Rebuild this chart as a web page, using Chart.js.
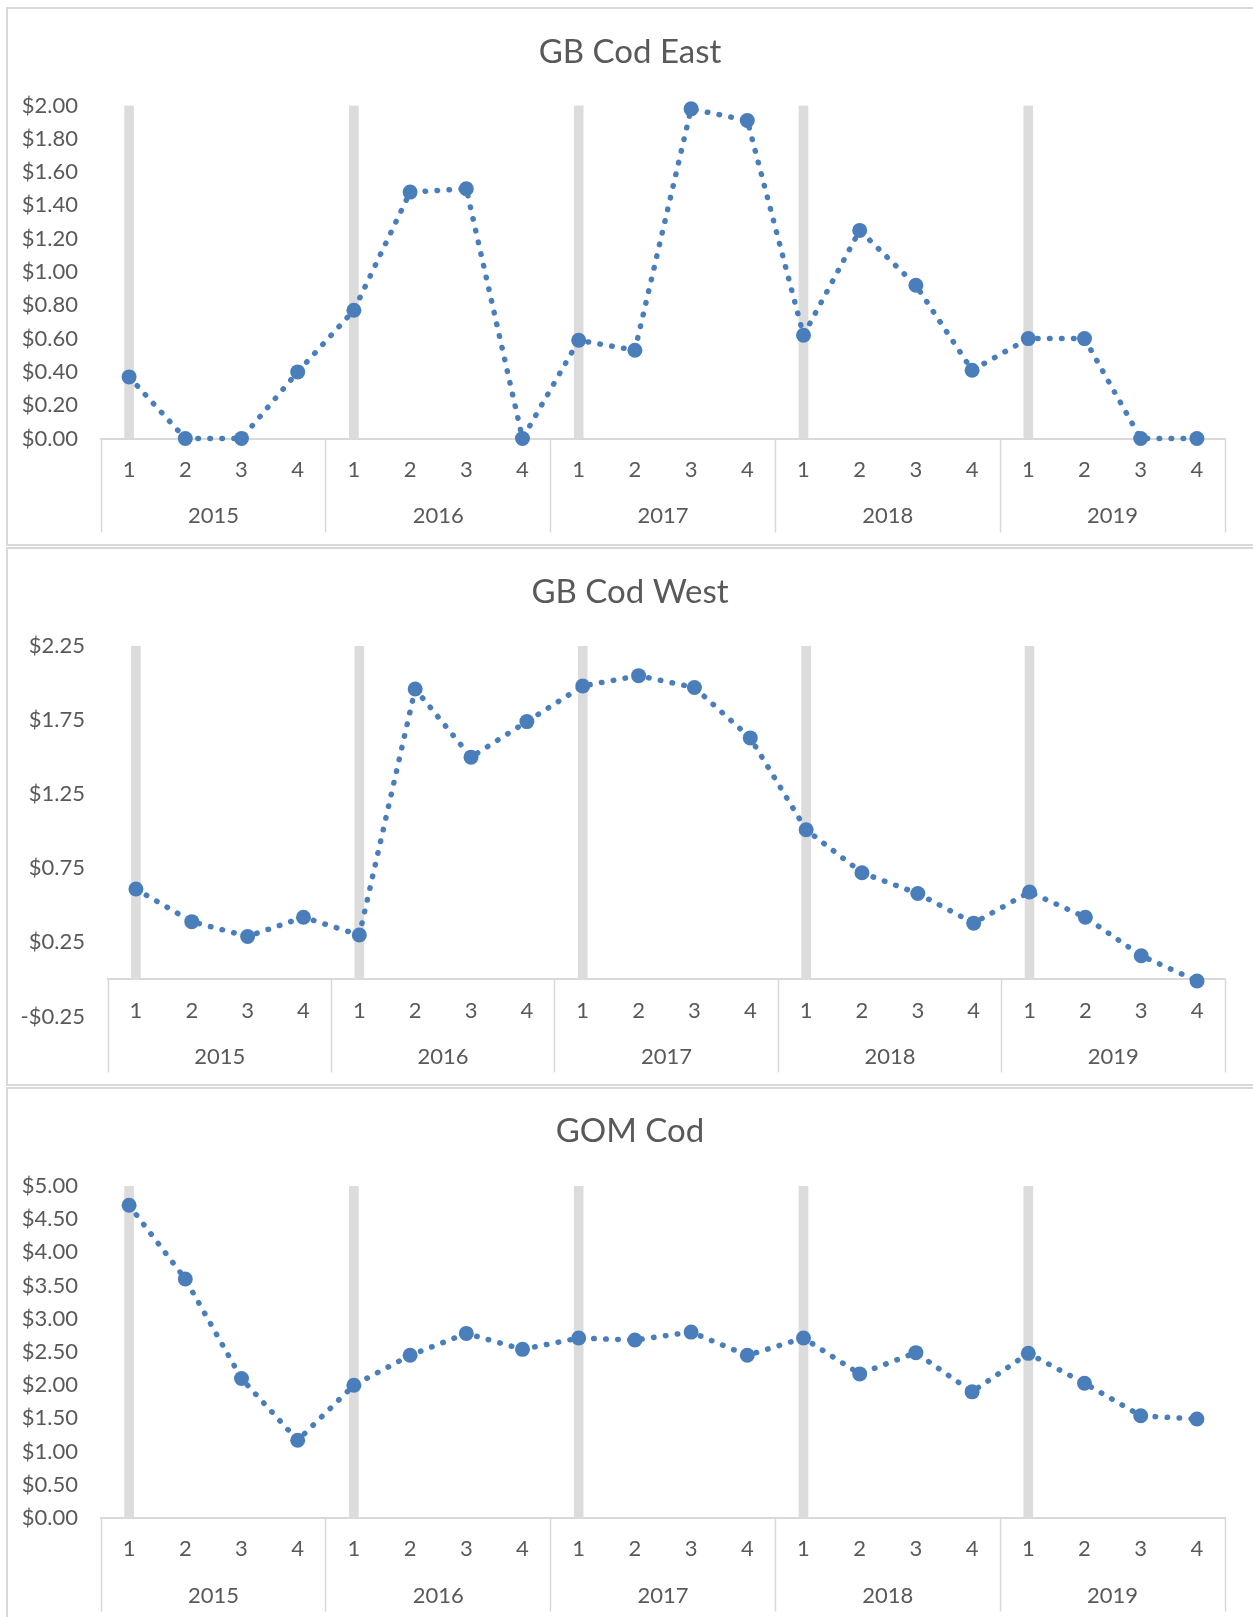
<!DOCTYPE html>
<html>
<head>
<meta charset="utf-8">
<script src="https://cdn.jsdelivr.net/npm/chart.js@4.4.1/dist/chart.umd.min.js"></script>
<style>
  html, body { margin: 0; padding: 0; background: #ffffff; overflow: hidden; width: 1253px; height: 1617px; }
  .panel { position: absolute; left: 6px; width: 1300px; height: 535px; border: 2px solid #d9d9d9; }
  canvas { position: absolute; left: 7px; }
</style>
</head>
<body>
<div class="panel" style="top:7px"></div>
<div class="panel" style="top:547px"></div>
<div class="panel" style="top:1087px"></div>
<canvas id="east" width="1246" height="539" style="top:7px"></canvas>
<canvas id="west" width="1246" height="539" style="top:547px"></canvas>
<canvas id="gom" width="1246" height="539" style="top:1087px"></canvas>
<script>
// Quarterly values, 2015 Q1 .. 2019 Q4
const years = ['2015', '2016', '2017', '2018', '2019'];
const quarters = ['1', '2', '3', '4'];

const gbCodEast = [0.37, 0.00, 0.00, 0.40,  0.77, 1.48, 1.50, 0.00,  0.59, 0.53, 1.98, 1.91,  0.62, 1.25, 0.92, 0.41,  0.60, 0.60, 0.00, 0.00];
const gbCodWest = [0.61, 0.39, 0.29, 0.42,  0.30, 1.96, 1.50, 1.74,  1.98, 2.05, 1.97, 1.63,  1.01, 0.72, 0.58, 0.38,  0.59, 0.42, 0.16, -0.01];
const gomCod    = [4.71, 3.60, 2.10, 1.17,  2.00, 2.45, 2.78, 2.54,  2.71, 2.68, 2.80, 2.45,  2.71, 2.17, 2.49, 1.90,  2.48, 2.03, 1.54, 1.49];

// Year-start marker columns (first quarter of each year, full axis height)
const eastYearBars = [2, null, null, null, 2, null, null, null, 2, null, null, null, 2, null, null, null, 2, null, null, null];
const westYearBars = [2.25, null, null, null, 2.25, null, null, null, 2.25, null, null, null, 2.25, null, null, null, 2.25, null, null, null];
const gomYearBars  = [5, null, null, null, 5, null, null, null, 5, null, null, null, 5, null, null, null, 5, null, null, null];

// Value axis ticks
const eastTicks = [0, 0.2, 0.4, 0.6, 0.8, 1.0, 1.2, 1.4, 1.6, 1.8, 2.0];
const westTicks = [-0.25, 0.25, 0.75, 1.25, 1.75, 2.25];
const gomTicks  = [0, 0.5, 1.0, 1.5, 2.0, 2.5, 3.0, 3.5, 4.0, 4.5, 5.0];

const categoryLabels = years.flatMap(() => quarters);

const TEXT = '#595959';
const LINE = '#4a7ebb';
const RULE = '#d9d9d9';
const FONT = 'Lato, "Open Sans", sans-serif';
const TICK_SIZE = 22;
const HALF_LINE = TICK_SIZE * 1.2 / 2;

function money(v) {
  const s = '$' + Math.abs(v).toFixed(2);
  return v < 0 ? '-' + s : s;
}

function buildPanel(id, title, values, bars, ticks, opts) {
  const yMin = ticks[0], yMax = ticks[ticks.length - 1];
  return new Chart(document.getElementById(id), {
    type: 'line',
    data: {
      labels: categoryLabels,
      datasets: [
        {
          type: 'line',
          data: values,
          xAxisID: 'x',
          yAxisID: 'y',
          order: 0,
          borderColor: LINE,
          borderWidth: 5.5,
          borderDash: [0.5, 11.5],
          borderCapStyle: 'round',
          tension: 0,
          fill: false,
          clip: false,
          pointRadius: 7.5,
          pointBackgroundColor: LINE,
          pointBorderWidth: 0
        },
        {
          type: 'bar',
          data: bars,
          xAxisID: 'x',
          yAxisID: 'y',
          order: 1,
          backgroundColor: '#dcdcdc',
          barThickness: 9
        }
      ]
    },
    options: {
      responsive: false,
      animation: false,
      devicePixelRatio: 1,
      layout: { padding: { top: 0, left: 0, right: 0, bottom: opts.bottomPad } },
      plugins: {
        legend: { display: false },
        tooltip: { enabled: false },
        title: {
          display: true,
          text: title,
          color: TEXT,
          font: { family: FONT, size: 33, weight: 'normal', lineHeight: 1.2 },
          padding: { top: opts.titleTop, bottom: opts.titleBottom }
        }
      },
      scales: {
        x: {
          type: 'category',
          axis: 'x',
          position: { y: 0 },
          offset: true,
          grid: { display: false, drawTicks: false },
          border: { display: false },
          ticks: {
            color: TEXT,
            font: { family: FONT, size: TICK_SIZE, lineHeight: 1.2 },
            padding: 31 - HALF_LINE,
            maxRotation: 0,
            autoSkip: false
          }
        },
        xYear: {
          type: 'category',
          axis: 'x',
          labels: years,
          position: { y: 0 },
          offset: true,
          grid: {
            display: true,
            offset: true,
            drawOnChartArea: false,
            drawTicks: true,
            tickLength: 92.5,
            tickColor: RULE,
            tickWidth: 1.5
          },
          border: { display: true, color: RULE, width: 2 },
          ticks: {
            color: TEXT,
            font: { family: FONT, size: TICK_SIZE, lineHeight: 1.2 },
            padding: 77.5 - HALF_LINE - 92.5,
            maxRotation: 0,
            autoSkip: false
          }
        },
        y: {
          type: 'linear',
          position: 'left',
          min: yMin,
          max: yMax,
          afterBuildTicks: (s) => { s.ticks = ticks.map(v => ({ value: v })); },
          afterFit: (s) => { s.width = opts.yWidth; },
          grid: { display: false, drawTicks: false },
          border: { display: false },
          ticks: {
            color: TEXT,
            font: { family: FONT, size: TICK_SIZE },
            padding: 23,
            callback: (v) => money(v)
          }
        },
        yRight: {
          type: 'linear',
          position: 'right',
          afterFit: (s) => { s.width = 28; },
          grid: { display: false, drawTicks: false },
          border: { display: false },
          ticks: { display: false }
        }
      }
    }
  });
}

buildPanel('east', 'GB Cod East', gbCodEast, eastYearBars, eastTicks,
  { yWidth: 94, bottomPad: 107.5, titleTop: 25.2, titleBottom: 33.7 });
buildPanel('west', 'GB Cod West', gbCodWest, westYearBars, westTicks,
  { yWidth: 101, bottomPad: 69.5, titleTop: 25.2, titleBottom: 34.2 });
buildPanel('gom', 'GOM Cod', gomCod, gomYearBars, gomTicks,
  { yWidth: 94, bottomPad: 108, titleTop: 24.2, titleBottom: 35.2 });
</script>
</body>
</html>
